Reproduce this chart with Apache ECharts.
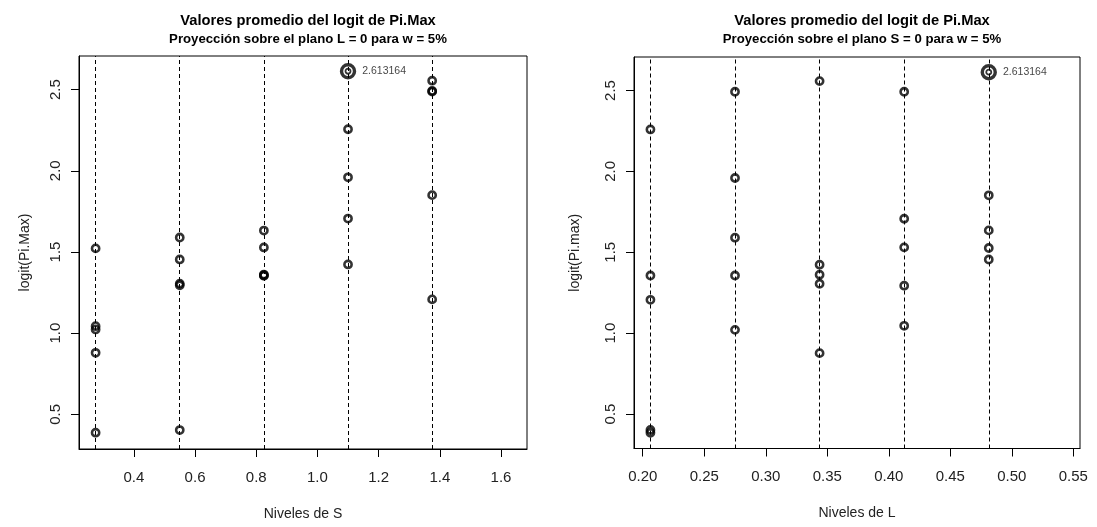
<!DOCTYPE html>
<html><head><meta charset="utf-8">
<script src="https://cdn.jsdelivr.net/npm/echarts@6/dist/echarts.min.js"></script>
<style>html,body{margin:0;padding:0;background:#fff}#c{width:1097px;height:527px}</style>
</head><body><div id="c"></div>
<script>
// Left panel: projection on L = 0, x = levels of S
const sLevels = [0.275, 0.55, 0.825, 1.1, 1.375];
const sValues = [
  [1.522, 1.043, 1.023, 0.879, 0.387],
  [1.589, 1.454, 1.305, 1.295, 0.403],
  [1.632, 1.528, 1.361, 1.356, 1.354],
  [2.613164, 2.256, 1.960, 1.706, 1.423],
  [2.555, 2.492, 2.488, 1.850, 1.208]
];
// Right panel: projection on S = 0, x = levels of L
const lLevels = [0.20625, 0.275, 0.34375, 0.4125, 0.48125];
const lValues = [
  [2.259, 1.356, 1.206, 0.401, 0.384],
  [2.492, 1.959, 1.590, 1.356, 1.020],
  [2.558, 1.423, 1.361, 1.305, 0.876],
  [2.492, 1.707, 1.530, 1.293, 1.045],
  [2.613164, 1.852, 1.635, 1.526, 1.455]
];
const sTicks = [0.4, 0.6, 0.8, 1.0, 1.2, 1.4, 1.6];
const lTicks = [0.20, 0.25, 0.30, 0.35, 0.40, 0.45, 0.50, 0.55];
const yTicks = [0.5, 1.0, 1.5, 2.0, 2.5];

const FF = "'Liberation Sans', Arial, Helvetica, sans-serif";
const TXT = '#222';

function splitPoints(levels, values) {
  let max = -Infinity, mi = -1, mj = -1;
  values.forEach((col, i) => col.forEach((v, j) => { if (v > max) { max = v; mi = i; mj = j; } }));
  const pts = [];
  values.forEach((col, i) => col.forEach((v, j) => { if (!(i === mi && j === mj)) pts.push([levels[i], v]); }));
  return { pts, maxPt: [levels[mi], max] };
}
const left = splitPoints(sLevels, sValues);
const right = splitPoints(lLevels, lValues);

function xAxisCfg(gi, min, max, ticks, dec, name) {
  return {
    type: 'value', gridIndex: gi, min, max, name, nameLocation: 'middle', nameGap: 58,
    nameTextStyle: { fontSize: 14, color: TXT, fontFamily: FF },
    axisLine: { show: true, lineStyle: { color: '#000', width: 1 } },
    splitLine: { show: false },
    axisTick: { show: true, customValues: ticks, length: 8, lineStyle: { color: '#000', width: 1 } },
    axisLabel: { customValues: ticks, formatter: v => Number(v).toFixed(dec), fontSize: 15, color: TXT, fontFamily: FF, margin: 21 }
  };
}
function yAxisCfg(gi, name, gap) {
  return {
    type: 'value', gridIndex: gi, min: 0.2865, max: 2.707, name, nameLocation: 'middle', nameGap: gap,
    nameTextStyle: { fontSize: 14, color: TXT, fontFamily: FF },
    axisLine: { show: true, lineStyle: { color: '#000', width: 1 } },
    splitLine: { show: false },
    axisTick: { show: true, customValues: yTicks, length: 8, lineStyle: { color: '#000', width: 1 } },
    axisLabel: { customValues: yTicks, rotate: 90, formatter: v => Number(v).toFixed(1), fontSize: 15, color: TXT, fontFamily: FF, margin: 16 }
  };
}
function panelSeries(gi, levels, split) {
  return [
    { type: 'scatter', xAxisIndex: gi, yAxisIndex: gi, data: [], z: 1, silent: true,
      markLine: { silent: true, precision: 6, symbol: ['none', 'none'], label: { show: false },
        lineStyle: { type: [4, 3], color: '#000', width: 1 },
        emphasis: { disabled: true },
        data: levels.map(v => ({ xAxis: v })) } },
    { type: 'scatter', xAxisIndex: gi, yAxisIndex: gi, data: split.pts, z: 3, symbol: 'circle', symbolSize: 7.2,
      itemStyle: { color: 'rgba(0,0,0,0)', borderColor: '#000', borderWidth: 2.6 } },
    { type: 'scatter', xAxisIndex: gi, yAxisIndex: gi, data: [split.maxPt], z: 4, symbol: 'circle', symbolSize: 13,
      itemStyle: { color: '#fff', borderColor: '#000', borderWidth: 3.4 },
      label: { show: true, position: 'right', distance: 6, formatter: p => p.value[1].toFixed(6),
        fontSize: 10.5, color: '#111', fontFamily: FF } },
    { type: 'scatter', xAxisIndex: gi, yAxisIndex: gi, data: [split.maxPt], z: 5, symbol: 'circle', symbolSize: 5,
      itemStyle: { color: 'rgba(0,0,0,0)', borderColor: '#000', borderWidth: 1.8 } }
  ];
}

const chart = echarts.init(document.getElementById('c'), null, { renderer: 'canvas' });
chart.setOption({
  animation: false,
  backgroundColor: '#fff',
  title: [
    { text: 'Valores promedio del logit de Pi.Max', left: 303, top: 8, textAlign: 'center',
      textStyle: { fontSize: 14.7, fontWeight: 'bold', color: '#000', fontFamily: FF } },
    { text: 'Proyección sobre el plano L = 0 para w = 5%', left: 303, top: 28, textAlign: 'center',
      textStyle: { fontSize: 13.2, fontWeight: 'bold', color: '#000', fontFamily: FF } },
    { text: 'Valores promedio del logit de Pi.Max', left: 857, top: 8, textAlign: 'center',
      textStyle: { fontSize: 14.7, fontWeight: 'bold', color: '#000', fontFamily: FF } },
    { text: 'Proyección sobre el plano S = 0 para w = 5%', left: 857, top: 28, textAlign: 'center',
      textStyle: { fontSize: 13.2, fontWeight: 'bold', color: '#000', fontFamily: FF } }
  ],
  grid: [
    { left: 79, top: 56, width: 448, height: 393, show: true, borderColor: '#000', borderWidth: 1, backgroundColor: 'transparent', containLabel: false },
    { left: 634, top: 57, width: 446, height: 391.5, show: true, borderColor: '#000', borderWidth: 1, backgroundColor: 'transparent', containLabel: false }
  ],
  xAxis: [
    xAxisCfg(0, 0.2207, 1.685, sTicks, 1, 'Niveles de S'),
    xAxisCfg(1, 0.1929, 0.5554, lTicks, 2, 'Niveles de L')
  ],
  yAxis: [
    yAxisCfg(0, 'logit(Pi.Max)', 47),
    yAxisCfg(1, 'logit(Pi.max)', 52)
  ],
  series: [].concat(panelSeries(0, sLevels, left), panelSeries(1, lLevels, right))
});
</script>
</body></html>
